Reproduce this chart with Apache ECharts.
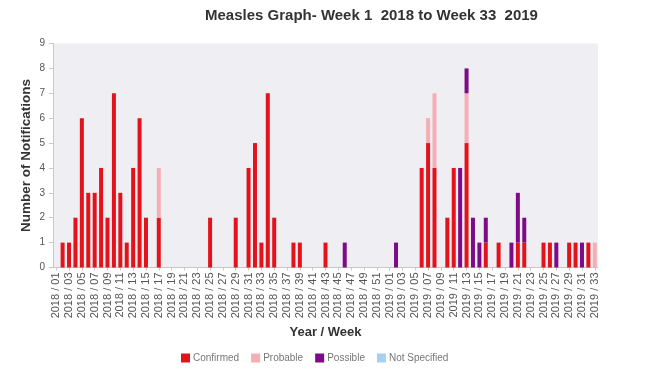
<!DOCTYPE html>
<html><head><meta charset="utf-8">
<script src="https://cdn.jsdelivr.net/npm/echarts@6/dist/echarts.min.js"></script>
<style>html,body{margin:0;padding:0;background:#fff}#c{width:650px;height:379px}</style>
</head><body><div id="c"></div>
<script>
// Categories: 2018 weeks 1-52, 2019 weeks 1-33
var years = [2018, 2019];
var weeksPerYear = [52, 33];
var categories = [];
for (var y = 0; y < years.length; y++) {
  for (var w = 1; w <= weeksPerYear[y]; w++) {
    categories.push(years[y] + ' / ' + (w < 10 ? '0' + w : '' + w));
  }
}
var confirmed = [
  0,1,1,2,6,3,3,4,2,7,
  3,1,4,6,2,0,2,0,0,0,
  0,0,0,0,2,0,0,0,2,0,
  4,5,1,7,2,0,0,1,1,0,
  0,0,1,0,0,0,0,0,0,0,
  0,0,0,0,0,0,0,4,5,4,
  0,2,4,0,5,0,0,1,0,1,
  0,0,1,1,0,0,1,1,0,0,
  1,1,0,1,0
];
var probable = [
  0,0,0,0,0,0,0,0,0,0,
  0,0,0,0,0,0,2,0,0,0,
  0,0,0,0,0,0,0,0,0,0,
  0,0,0,0,0,0,0,0,0,0,
  0,0,0,0,0,0,0,0,0,0,
  0,0,0,0,0,0,0,0,1,3,
  0,0,0,0,2,0,0,0,0,0,
  0,0,0,0,0,0,0,0,0,0,
  0,0,0,0,1
];
var possible = [
  0,0,0,0,0,0,0,0,0,0,
  0,0,0,0,0,0,0,0,0,0,
  0,0,0,0,0,0,0,0,0,0,
  0,0,0,0,0,0,0,0,0,0,
  0,0,0,0,0,1,0,0,0,0,
  0,0,0,1,0,0,0,0,0,0,
  0,0,0,4,1,2,1,1,0,0,
  0,1,2,1,0,0,0,0,1,0,
  0,0,1,0,0
];
var notSpecified = [
  0,0,0,0,0,0,0,0,0,0,
  0,0,0,0,0,0,0,0,0,0,
  0,0,0,0,0,0,0,0,0,0,
  0,0,0,0,0,0,0,0,0,0,
  0,0,0,0,0,0,0,0,0,0,
  0,0,0,0,0,0,0,0,0,0,
  0,0,0,0,0,0,0,0,0,0,
  0,0,0,0,0,0,0,0,0,0,
  0,0,0,0,0
];
var seriesNames = ['Confirmed', 'Probable', 'Possible', 'Not Specified'];
var seriesData = [confirmed, probable, possible, notSpecified];
var colors = ['#e3121b', '#f6adb4', '#7d0a87', '#a8cfee'];
var yTicks = [0, 9, 1];

var FONT = 'Liberation Sans, Arial, sans-serif';
var chart = echarts.init(document.getElementById('c'), null, {renderer: 'canvas'});
chart.setOption({
  animation: false,
  backgroundColor: '#ffffff',
  title: {
    text: 'Measles Graph- Week 1  2018 to Week 33  2019',
    left: 200, top: 3,
    textStyle: {fontFamily: FONT, fontSize: 15, fontWeight: 'bold', color: '#333'}
  },
  legend: {
    data: seriesNames,
    left: 176, top: 348,
    icon: 'rect', itemWidth: 9, itemHeight: 9, itemGap: 12,
    textStyle: {fontFamily: FONT, fontSize: 10, color: '#777', padding: [0,0,0,-2]}
  },
  grid: {left: 53, right: 52, top: 43.5, bottom: 111.5, show: true, backgroundColor: '#eeeef3', borderWidth: 0},
  xAxis: {
    type: 'category', data: categories,
    name: 'Year / Week', nameLocation: 'middle', nameGap: 56,
    nameTextStyle: {fontFamily: FONT, fontSize: 13, fontWeight: 'bold', color: '#333'},
    axisLine: {lineStyle: {color: '#c8c8c8'}},
    axisTick: {show: true, interval: 1, length: 3, lineStyle: {color: '#c8c8c8'}, alignWithLabel: true},
    axisLabel: {interval: 1, rotate: 90, fontFamily: FONT, fontSize: 11, color: '#555', margin: 5}
  },
  yAxis: {
    type: 'value', min: yTicks[0], max: yTicks[1], interval: yTicks[2],
    name: 'Number of Notifications', nameLocation: 'middle', nameGap: 20,
    nameMoveOverlap: false,
    nameTextStyle: {fontFamily: FONT, fontSize: 13.5, fontWeight: 'bold', color: '#333'},
    axisLine: {show: true, lineStyle: {color: '#c8c8c8'}},
    axisTick: {show: true, length: 4, lineStyle: {color: '#c8c8c8'}},
    axisLabel: {fontFamily: FONT, fontSize: 10, color: '#555', margin: 8},
    splitLine: {show: false}
  },
  series: seriesNames.map(function (n, i) {
    return {
      name: n, type: 'bar', stack: 'total', barWidth: 4,
      data: seriesData[i], itemStyle: {color: colors[i]}
    };
  })
});
</script>
</body></html>
